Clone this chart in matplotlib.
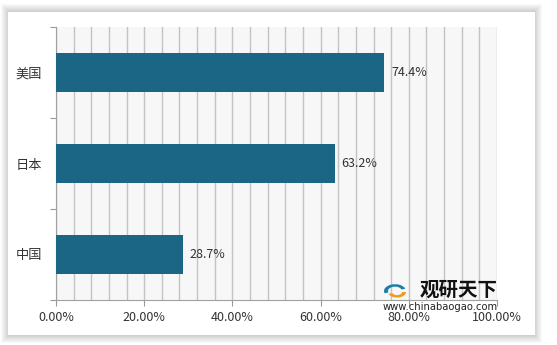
import matplotlib.pyplot as plt
from matplotlib.patches import Rectangle, Wedge
from matplotlib.ticker import MultipleLocator, FuncFormatter

plt.rcParams['font.family'] = ['Noto Sans CJK SC', 'DejaVu Sans']

countries = ['中国', '日本', '美国']
values = [28.7, 63.2, 74.4]
labels = ['28.7%', '63.2%', '74.4%']

fig = plt.figure(figsize=(5.57, 3.45), dpi=100)
fig.patch.set_facecolor('white')

# card with soft shadow
W, H = 557, 345
for d in range(8, 0, -1):
    fig.patches.append(Rectangle(((8 - d + 1) / W, (10 - d) / H), (527 + 2 * d - 2) / W, (323 + 2 * d) / H,
                                 transform=fig.transFigure, facecolor='black', alpha=0.025,
                                 edgecolor='none', zorder=0))
fig.patches.append(Rectangle((8 / W, 10 / H), 527 / W, 323 / H, transform=fig.transFigure,
                             facecolor='white', edgecolor='none', zorder=1))

ax = fig.add_axes([56 / W, 45 / H, 441 / W, 273 / H])
ax.set_zorder(2)
ax.set_facecolor('#F7F7F7')

ax.barh(range(len(countries)), values, height=0.42, color='#1B6585', zorder=3)
for i, (v, t) in enumerate(zip(values, labels)):
    ax.annotate(t, (v, i), xytext=(5, 0), textcoords='offset points', va='center', ha='left',
                fontsize=9, color='#333333', zorder=4)

ax.set_xlim(0, 100)
ax.set_ylim(-0.5, 2.5)
ax.xaxis.set_major_locator(MultipleLocator(20))
ax.xaxis.set_minor_locator(MultipleLocator(4))
ax.xaxis.set_major_formatter(FuncFormatter(lambda x, p: f'{x:.2f}%'))
ax.grid(axis='x', which='both', color='#C3C3C3', linewidth=1)
ax.set_axisbelow(True)

ax.set_yticks([-0.5, 0.5, 1.5, 2.5])
ax.set_yticklabels([])
ax.set_yticks(range(len(countries)), minor=True)
ax.set_yticklabels(countries, minor=True)
ax.tick_params(axis='y', which='minor', length=0, pad=10, labelsize=9.5, labelcolor='#333333')
ax.tick_params(axis='y', which='major', length=4, color='#999999')
ax.tick_params(axis='x', which='major', length=4, color='#999999', labelsize=9,
               labelcolor='#333333', pad=4)
ax.tick_params(axis='x', which='minor', length=0)

for s in ['top', 'right']:
    ax.spines[s].set_visible(False)
for s in ['left', 'bottom']:
    ax.spines[s].set_color('#A0A0A0')

# watermark
lx, ly = 395 / W, 1 - 291 / H
fig.patches.append(Wedge((lx, ly), 11 / W, 20, 200, width=4 / W, transform=fig.transFigure,
                         facecolor='#1B7FA8', edgecolor='none', zorder=5))
fig.patches.append(Wedge((lx + 2 / W, ly - 1 / H), 9 / W, 200, 360, width=4 / W,
                         transform=fig.transFigure, facecolor='#F39A1E', edgecolor='none', zorder=5))
fig.text(420 / W, 1 - 290 / H, '观研天下', fontsize=14, fontweight='bold', color='#111111',
         ha='left', va='center', zorder=6)
fig.text(383 / W, 1 - 307 / H, 'www.chinabaogao.com', fontsize=7.2, color='#222222',
         ha='left', va='center', family='DejaVu Sans', zorder=6)

fig.savefig('out.png', dpi=100)
